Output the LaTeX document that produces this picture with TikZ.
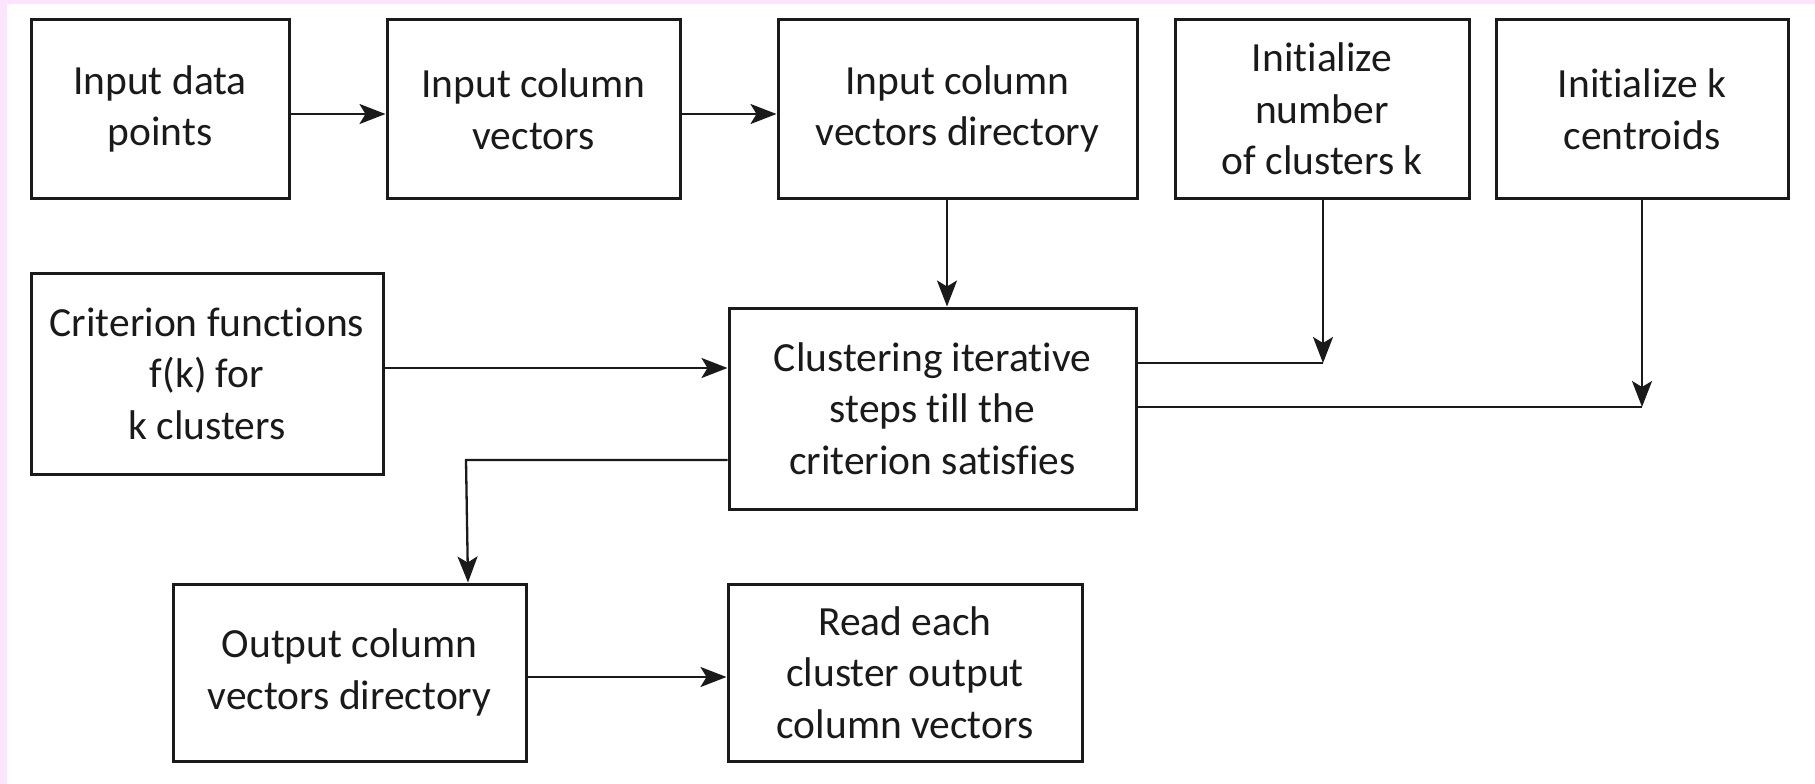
\documentclass[tikz,border=0pt]{standalone}
\usepackage{fontspec}
\setmainfont{Carlito}[Ligatures=NoCommon]
\usetikzlibrary{arrows.meta}
\definecolor{pinkbg}{RGB}{252,228,252}
\definecolor{ink}{RGB}{26,26,26}
\tikzset{
  box/.style={draw=ink, line width=3pt, rectangle, inner sep=0pt, align=center,
    text=ink, font=\fontsize{41.5}{51.5}\selectfont},
  conn/.style={draw=ink, line width=2.3pt},
  arr/.style={conn, -{Stealth[length=26pt,width=20pt,inset=6pt]}}
}
\begin{document}
\begin{tikzpicture}[x=1pt,y=-1pt]
\useasboundingbox (0,0) rectangle (1815,784);
\fill[white] (0,0) rectangle (1815,784);
\fill[pinkbg] (0,0) rectangle (1815,4);
\fill[pinkbg] (0,0) rectangle (7,784);

\node[box, minimum width=258pt, minimum height=178pt] (b1) at (160,109) {Input data\\points};
\node[box, minimum width=293pt, minimum height=178pt] (b2) at (533.5,109) {Input column\\vectors};
\node[box, minimum width=359pt, minimum height=178pt] (b3) at (957.5,109) {Input column\\vectors directory};
\node[box, minimum width=294pt, minimum height=178pt] (b4) at (1322,109) {Initialize\\number\\of clusters k};
\node[box, minimum width=292pt, minimum height=178pt] (b5) at (1642,109) {Initialize k\\centroids};
\node[box, minimum width=352pt, minimum height=201pt] (b6) at (207,373.5) {Criterion functions\\f(k) for\\k clusters};
\node[box, minimum width=407pt, minimum height=201pt] (b7) at (932.5,408.5) {Clustering iterative\\steps till the\\criterion satisfies};
\node[box, minimum width=353pt, minimum height=177pt] (b8) at (349.5,672.5) {Output column\\vectors directory};
\node[box, minimum width=354pt, minimum height=177pt] (b9) at (905,672.5) {Read each\\cluster output\\column vectors};

\coordinate (y1) at (0,114);
\coordinate (x3) at (947,0);
\coordinate (y6) at (0,368);
\coordinate (j1) at (1323,363);
\coordinate (j2) at (1642,407);
\coordinate (y7) at (0,460);
\coordinate (e1) at (466,460);
\coordinate (x8) at (468,0);
\coordinate (y8) at (0,677);

\draw[arr] (b1.east |- y1) -- (b2.west |- y1);
\draw[arr] (b2.east |- y1) -- (b3.west |- y1);
\draw[arr] (b3.south -| x3) -- (b7.north -| x3);
\draw[arr] (b6.east |- y6) -- (b7.west |- y6);
\draw[arr] (b4.south -| j1) -- (j1);
\draw[conn] (b7.east |- j1) -- (j1);
\draw[arr] (b5.south) -- (j2);
\draw[conn] (b7.east |- j2) -- (j2);
\draw[arr] (b7.west |- y7) -- (e1) -- (b8.north -| x8);
\draw[arr] (b8.east |- y8) -- (b9.west |- y8);
\end{tikzpicture}
\end{document}
